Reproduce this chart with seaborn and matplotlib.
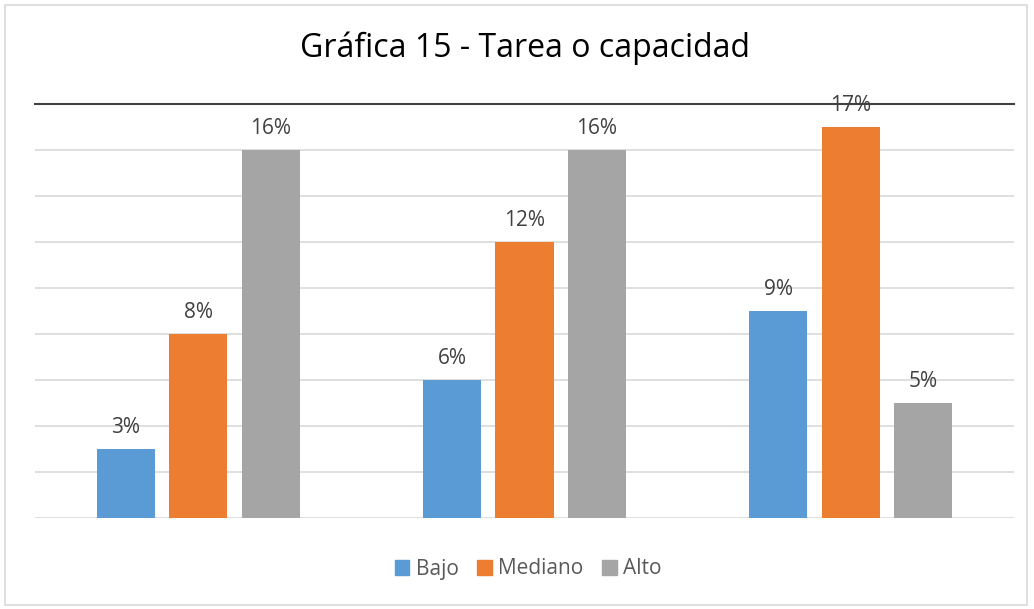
import matplotlib
matplotlib.use('Agg')
import matplotlib.pyplot as plt
import seaborn as sns
import pandas as pd
from matplotlib.patches import Rectangle

# datos de la grafica
grupos = ['G1', 'G2', 'G3']
niveles = ['Bajo', 'Mediano', 'Alto']
bajo = [3, 6, 9]
mediano = [8, 12, 17]
alto = [16, 16, 5]
colores = ['#5B9BD5', '#ED7D31', '#A5A5A5']

df = pd.DataFrame({
    'grupo': grupos * 3,
    'nivel': [n for n in niveles for _ in grupos],
    'valor': bajo + mediano + alto,
})

sns.set_style('white')
plt.rcParams['font.family'] = ['Open Sans', 'DejaVu Sans']

fig = plt.figure(figsize=(10.34, 6.09), dpi=100)
ax = fig.add_axes([35 / 1034, 91 / 609, 979 / 1034, 414 / 609])

sns.barplot(data=df, x='grupo', y='valor', hue='nivel', hue_order=niveles,
            palette=colores, width=0.667, gap=0.2, saturation=1,
            linewidth=0, ax=ax, legend=False)

ax.set_ylim(0, 18)
ax.set_xlim(-0.5, 2.5)
ax.set_yticks(range(0, 19, 2))
ax.yaxis.grid(True, color='#D9D9D9', linewidth=1.2)
ax.set_axisbelow(True)
ax.set_xticks([])
ax.tick_params(left=False, labelleft=False)
ax.set_xlabel('')
ax.set_ylabel('')
for s in ['left', 'right', 'bottom']:
    ax.spines[s].set_visible(False)
ax.spines['top'].set_color('#404040')
ax.spines['top'].set_linewidth(1.5)

for cont in ax.containers:
    ax.bar_label(cont, labels=[f'{int(v)}%' for v in cont.datavalues],
                 padding=8, fontsize=15, color='#404040')

fig.text(525 / 1034, 1 - 48 / 609, 'Gráfica 15 - Tarea o capacidad',
         ha='center', va='center', fontsize=23, color='#000000')

handles = [Rectangle((0, 0), 1, 1, color=c) for c in colores]
fig.legend(handles, niveles, loc='center', bbox_to_anchor=(528 / 1034, 1 - 569 / 609),
           ncol=3, frameon=False, fontsize=15, labelcolor='#595959',
           handlelength=0.7, handleheight=0.7, handletextpad=0.3, columnspacing=0.9)

fig.patches.append(Rectangle((5 / 1034, 4 / 609), 1022 / 1034, 600 / 609,
                             transform=fig.transFigure, fill=False,
                             edgecolor='#D9D9D9', linewidth=1.2))

fig.savefig('out.png', dpi=100)
